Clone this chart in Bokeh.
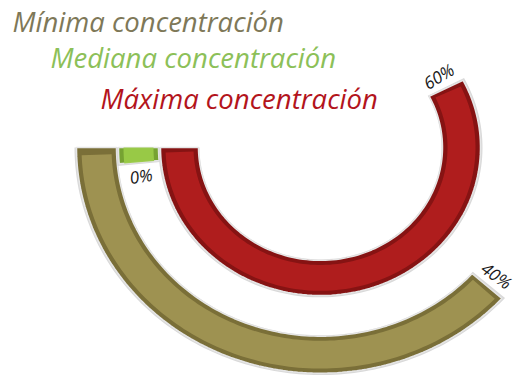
import numpy as np
from bokeh.plotting import figure
from bokeh.models import Range1d
from bokeh.core.properties import value
from bokeh.embed import file_html
from bokeh.resources import INLINE

# ---- data ----
series = ["Mínima concentración", "Mediana concentración", "Máxima concentración"]
values = [40, 0, 60]          # percent
value_labels = ["40%", "0%", "60%"]

# ---- style ----
fill_main = ["#a09452", "#9acb48", "#b11d1d"]
fill_dark = ["#7a6f38", "#76a232", "#861313"]
text_colors = ["#7e7858", "#8cc058", "#b3141c"]

W, H = 516, 376
CX, CY = 320, 147        # centre in screen px
K = 0.925                # vertical perspective squash
DEG_PER_PCT = 3.45
START = 180.0
MIN_SWEEP = 5.0
outer_r = [244, 202, 160]
ring_w = [40, 40, 38]

p = figure(width=W, height=H, output_backend="svg", toolbar_location=None,
           x_range=Range1d(-CX, W - CX),
           y_range=Range1d(-(H - CY) / K, CY / K),
           x_axis_location=None, y_axis_location=None, min_border=0)
p.grid.visible = False
p.outline_line_color = None
p.background_fill_color = "white"


def ring(r_out, r_in, a0, a1, n=120):
    t = np.radians(np.linspace(a0, a1, n))
    xs = np.concatenate([r_out * np.cos(t), r_in * np.cos(t[::-1])])
    ys = np.concatenate([r_out * np.sin(t), r_in * np.sin(t[::-1])])
    return list(xs), list(ys)


for i, (name, v) in enumerate(zip(series, values)):
    sweep = max(v * DEG_PER_PCT, MIN_SWEEP)
    a1 = START + sweep
    ro, ri = outer_r[i], outer_r[i] - ring_w[i]
    # soft shadow
    xs, ys = ring(ro + 2, ri - 1, START, a1 + 0.6)
    p.patch(xs, ys, fill_color="#d9d9d9", line_color=None)
    # dark body
    xs, ys = ring(ro, ri, START, a1)
    p.patch(xs, ys, fill_color=fill_dark[i], line_color="#e6e6e6", line_width=1.5)
    # lighter face
    inset = 5
    da = np.degrees(inset / ro) if v > 0 else 0
    xs, ys = ring(ro - inset, ri + inset, START + (2 if v > 0 else 0), a1 - da)
    p.patch(xs, ys, fill_color=fill_main[i], line_color=None, fill_alpha=0.95)

    # value label placed radially just past the bar end
    rm = ro - ring_w[i] / 2
    la = a1 + np.degrees(15 / rm)
    lx = rm * np.cos(np.radians(la))
    ly = rm * np.sin(np.radians(la))
    scr = np.degrees(np.arctan2(K * np.sin(np.radians(la)), np.cos(np.radians(la))))
    if scr > 90 or scr < -90:
        scr += 180
    p.text([lx], [ly], text=[value_labels[i]], angle=[np.radians(scr)],
           text_font=value("Open Sans"), text_font_style="italic",
           text_font_size="17px", text_color="#1a1a1a",
           text_align="center", text_baseline="middle")

# series titles (top-left, staggered)
title_px = [(12, 21), (50, 57), (100, 98)]
for i, name in enumerate(series):
    px, py = title_px[i]
    p.text([px - CX], [(CY - py) / K], text=[name],
           text_font=value("Open Sans"), text_font_style="italic",
           text_font_size="27.5px", text_color=text_colors[i],
           text_align="left", text_baseline="middle")

open("out.html", "w").write(file_html(p, INLINE))
